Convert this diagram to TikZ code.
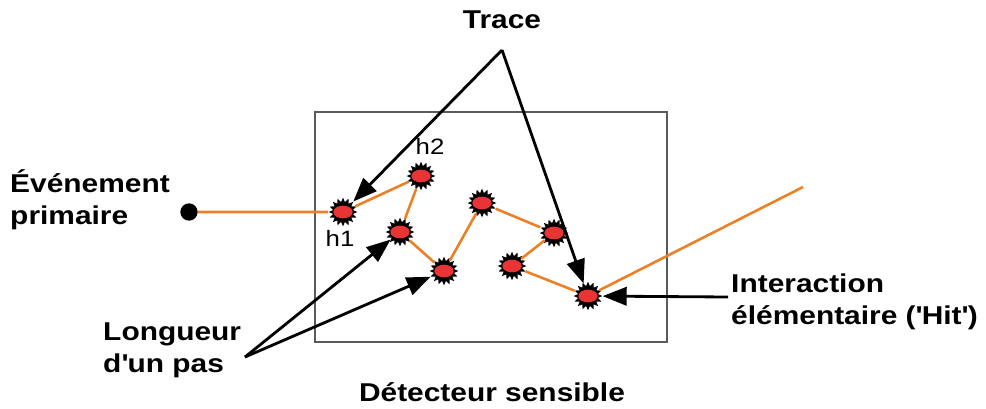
\documentclass[tikz,border=0pt]{standalone}
\usepackage{fontspec}
\setmainfont{Liberation Sans}[FakeStretch=1.16]
\usetikzlibrary{shapes.geometric,arrows.meta}
\definecolor{trackorange}{RGB}{236,128,38}
\definecolor{hitred}{RGB}{232,52,52}
\definecolor{boxgray}{RGB}{90,90,90}
\tikzset{
	hit/.style={star, star points=16, star point height=0.13cm, minimum size=0.86cm, inner sep=0pt, fill=black,
		path picture={\fill[hitred, shift={(path picture bounding box.center)}, rotate=25] (0,0) ellipse (0.29cm and 0.19cm);}},
	track/.style={trackorange, line width=2.2pt},
	pointer/.style={-{Triangle[length=0.72cm,width=0.55cm]}, line width=2.4pt},
	lbl/.style={font=\bfseries\fontsize{22}{27}\selectfont, align=left, inner sep=0pt},
	hlbl/.style={font=\fontsize{19}{22}\selectfont, inner sep=0pt}
}
\begin{document}
\begin{tikzpicture}[x=0.03cm, y=-0.03cm]
			\useasboundingbox (0,0) rectangle (986,408);
			% detector
			\draw[boxgray, line width=1pt] (315,112) rectangle (667,342);
			% hits
			\node[hit] (h1) at (343,212) {};
			\node[hit] (h2) at (421,176) {};
			\node[hit] (h3) at (400,232) {};
			\node[hit] (h4) at (444,271) {};
			\node[hit] (h5) at (482,203) {};
			\node[hit] (h6) at (554,233) {};
			\node[hit] (h7) at (512,266) {};
			\node[hit] (h8) at (588,296) {};
			\node[circle, fill=black, inner sep=0pt, minimum size=0.52cm] (src) at (189,212) {};
			\coordinate (exit) at (803,187);
			% track
			\draw[track] (src) -- (h1) -- (h2) -- (h3) -- (h4) -- (h5) -- (h6) -- (h7) -- (h8) -- (exit);
			% labels
			\node[hlbl] (h1lbl) at (340,238) {h1};
			\node[hlbl] (h2lbl) at (430,146) {h2};
			\node[lbl] (trace) at (502,20) {Trace};
			\node[lbl, anchor=west] (prim) at (10,200) {Événement\\primaire};
			\node[lbl, anchor=west] (pas) at (103,350) {Longueur\\d\textquotesingle un pas};
			\node[lbl, anchor=west] (inter) at (731,302) {Interaction\\élémentaire (\textquotesingle Hit\textquotesingle)};
			\node[lbl] (det) at (492,392) {Détecteur sensible};
			% pointers
			\coordinate (tr) at (502,50);
			\coordinate (lp) at (245,357);
			\coordinate (ia) at (728,297);
			\draw[pointer] (tr) -- (h1);
			\draw[pointer] (tr) -- (h8);
			\draw[pointer] (lp) -- (h3);
			\draw[pointer] (lp) -- (h4);
			\draw[pointer] (ia) -- (h8);
\end{tikzpicture}
\end{document}
